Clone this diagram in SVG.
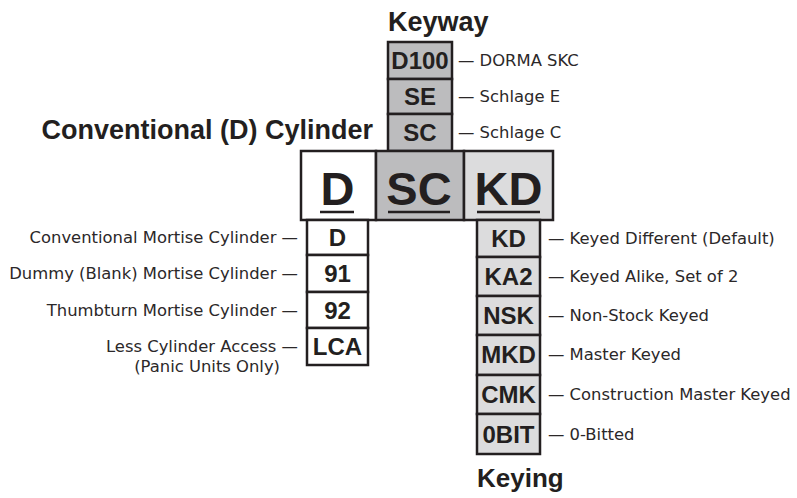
<svg xmlns="http://www.w3.org/2000/svg" width="797" height="498" viewBox="0 0 797 498">
<style>
.bx{stroke:#231f20;stroke-width:2.5}
.w{fill:#ffffff}.g{fill:#bcbcbe}.l{fill:#dcdcdd}
.code{font-family:"Liberation Sans",Arial,sans-serif;font-weight:bold;font-size:24px;fill:#231f20;text-anchor:middle}
.big{font-family:"Liberation Sans",Arial,sans-serif;font-weight:bold;font-size:47px;fill:#231f20;text-anchor:middle}
.ttl{font-family:"Liberation Sans",Arial,sans-serif;font-weight:bold;font-size:27px;fill:#231f20}
.d{font-family:"DejaVu Sans",sans-serif;font-size:16.4px;fill:#2b2829}
.e{text-anchor:end}
.ul{stroke:#231f20;stroke-width:2.5}
</style>
<g id="title-keyway"><text class="ttl" x="388" y="31">Keyway</text></g>
<g id="title-cylinder"><text class="ttl e" x="373" y="139">Conventional (D) Cylinder</text></g>
<g id="title-keying"><text class="ttl" x="477" y="487" style="font-size:26px">Keying</text></g>

<g id="keyway-d100"><rect class="bx g" x="388" y="42" width="64" height="37"/><text class="code" x="420" y="69">D100</text><text class="d" x="458" y="66">— DORMA SKC</text></g>
<g id="keyway-se"><rect class="bx g" x="388" y="79" width="64" height="35"/><text class="code" x="420" y="105">SE</text><text class="d" x="458" y="102">— Schlage E</text></g>
<g id="keyway-sc"><rect class="bx g" x="388" y="114" width="64" height="37"/><text class="code" x="420" y="141">SC</text><text class="d" x="458" y="138">— Schlage C</text></g>

<g id="main-d"><rect class="bx w" x="301" y="151" width="75" height="69"/><text class="big" x="337.5" y="205">D</text><line class="ul" x1="320" y1="212" x2="354" y2="212"/></g>
<g id="main-sc"><rect class="bx g" x="376" y="151" width="88" height="69"/><text class="big" x="419" y="205">SC</text><line class="ul" x1="388" y1="212" x2="450" y2="212"/></g>
<g id="main-kd"><rect class="bx l" x="464" y="151" width="89" height="69"/><text class="big" x="508.5" y="205">KD</text><line class="ul" x1="477" y1="212" x2="540" y2="212"/></g>

<g id="cyl-d"><rect class="bx w" x="307" y="220" width="61" height="35"/><text class="code" x="337.5" y="246">D</text><text class="d e" x="298" y="243">Conventional Mortise Cylinder —</text></g>
<g id="cyl-91"><rect class="bx w" x="307" y="255" width="61" height="37"/><text class="code" x="337.5" y="282">91</text><text class="d e" x="298" y="279">Dummy (Blank) Mortise Cylinder —</text></g>
<g id="cyl-92"><rect class="bx w" x="307" y="292" width="61" height="36"/><text class="code" x="337.5" y="318.5">92</text><text class="d e" x="298" y="316">Thumbturn Mortise Cylinder —</text></g>
<g id="cyl-lca"><rect class="bx w" x="307" y="328" width="61" height="37"/><text class="code" x="337.5" y="355">LCA</text><text class="d e" x="298" y="352">Less Cylinder Access —</text><text class="d e" x="280" y="372">(Panic Units Only)</text></g>

<g id="key-kd"><rect class="bx l" x="477" y="220" width="63" height="37"/><text class="code" x="508.5" y="247">KD</text><text class="d" x="548" y="244">— Keyed Different (Default)</text></g>
<g id="key-ka2"><rect class="bx l" x="477" y="257" width="63" height="39"/><text class="code" x="508.5" y="284.5">KA2</text><text class="d" x="548" y="282">— Keyed Alike, Set of 2</text></g>
<g id="key-nsk"><rect class="bx l" x="477" y="296" width="63" height="39"/><text class="code" x="508.5" y="323.5">NSK</text><text class="d" x="548" y="321">— Non-Stock Keyed</text></g>
<g id="key-mkd"><rect class="bx l" x="477" y="335" width="63" height="40"/><text class="code" x="508.5" y="363">MKD</text><text class="d" x="548" y="360">— Master Keyed</text></g>
<g id="key-cmk"><rect class="bx l" x="477" y="375" width="63" height="39"/><text class="code" x="508.5" y="403">CMK</text><text class="d" x="548" y="400">— Construction Master Keyed</text></g>
<g id="key-0bit"><rect class="bx l" x="477" y="414" width="63" height="40"/><text class="code" x="508.5" y="442.5">0BIT</text><text class="d" x="548" y="440">— 0-Bitted</text></g>
<g id="connectors"></g>
</svg>
